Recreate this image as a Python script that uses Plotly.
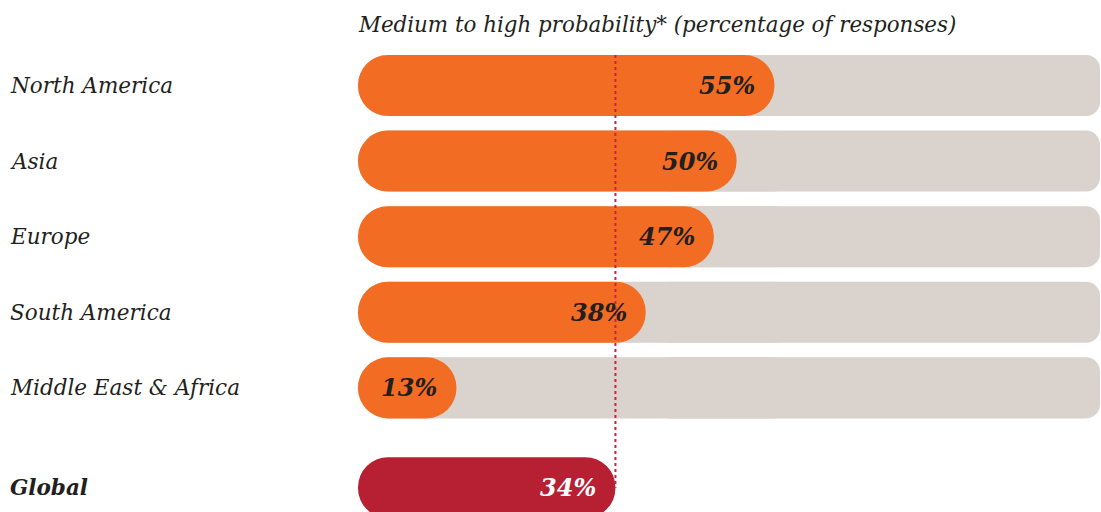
import plotly.graph_objects as go

# Survey results by region
regions = ["North America", "Asia", "Europe", "South America", "Middle East & Africa"]
shares = [55, 50, 47, 38, 13]
global_label = "Global"
global_share = 34
title_text = "Medium to high probability* (percentage of responses)"
track_len = 98  # length of the grey background track

ORANGE = "#F26D23"
GREY = "#D9D2CD"
CRIMSON = "#B71F33"
TEXT = "#231F20"
DOT = "#C8243E"
FONT = "DejaVu Serif"

n = len(regions)
rows = list(range(n))
global_row = n + 0.32
BAR_W = 0.807


def bar(y, start, length, color, radius):
    return go.Bar(orientation="h", y=y, x=length, base=start, width=BAR_W,
                  marker=dict(color=color, cornerradius=radius, line_width=0),
                  hoverinfo="skip", showlegend=False)


fig = go.Figure()

# grey track: fully rounded left part overlapping a softer-cornered right part
split = 0.6 * track_len
fig.add_trace(bar(rows, [0] * n, [split] * n, GREY, "50%"))
fig.add_trace(bar(rows, [track_len - split] * n, [split] * n, GREY, 14))

fig.add_trace(bar(rows, [0] * n, shares, ORANGE, "50%"))
fig.add_trace(bar([global_row], [0], [global_share], CRIMSON, "50%"))

# dotted reference line at the global value
fig.add_shape(type="line", xref="x", yref="y", x0=global_share, x1=global_share,
              y0=-BAR_W / 2, y1=global_row, layer="above",
              line=dict(color=DOT, width=2, dash="dot"))

label_x = (8 - 358) / 743
for r, name, v in zip(rows, regions, shares):
    fig.add_annotation(x=label_x, xref="paper", y=r, yref="y", text=name, showarrow=False,
                       xanchor="left", yanchor="middle",
                       font=dict(family=FONT, size=21.5, color=TEXT, style="italic"))
    fig.add_annotation(x=v, y=r, text=f"{v}%", showarrow=False, xanchor="right",
                       yanchor="middle", xshift=-17,
                       font=dict(family=FONT, size=24, color=TEXT, style="italic", weight="bold"))

fig.add_annotation(x=label_x, xref="paper", y=global_row, yref="y", text=global_label,
                   showarrow=False, xanchor="left", yanchor="middle",
                   font=dict(family=FONT, size=21.5, color=TEXT, style="italic", weight="bold"))
fig.add_annotation(x=global_share, y=global_row, text=f"{global_share}%", showarrow=False,
                   xanchor="right", yanchor="middle", xshift=-17,
                   font=dict(family=FONT, size=24, color="white", style="italic", weight="bold"))

fig.add_annotation(x=-2 / 743, xref="paper", y=1 - 24 / 512, yref="paper", text=title_text,
                   showarrow=False, xanchor="left", yanchor="middle",
                   font=dict(family=FONT, size=21.4, color=TEXT, style="italic"))

fig.update_layout(
    width=1101, height=512,
    margin=dict(l=358, r=0, t=0, b=0),
    paper_bgcolor="white", plot_bgcolor="white",
    barmode="overlay",
    xaxis=dict(range=[0, 98.13], visible=False, fixedrange=True),
    yaxis=dict(range=[5.642, -1.131], visible=False, fixedrange=True),
)

fig.write_html("out.html")
